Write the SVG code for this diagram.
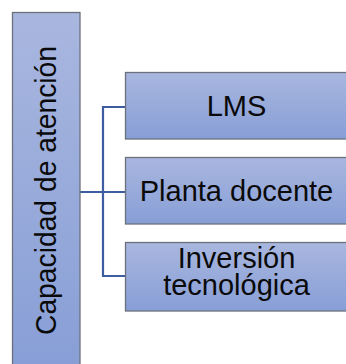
<svg xmlns="http://www.w3.org/2000/svg" width="346" height="364" viewBox="0 0 346 364">
<defs>
<linearGradient id="g" x1="0" y1="0" x2="0" y2="1">
<stop offset="0" stop-color="#A9B7DF"/>
<stop offset="1" stop-color="#879ED6"/>
</linearGradient>
<style>
.box{fill:url(#g);stroke:#6C707C;stroke-width:1.3}
.lbl{font-family:"Liberation Sans",Arial,sans-serif;font-size:29px;fill:#0A0A0A;text-anchor:middle}
.con{fill:none;stroke:#3C5DA2;stroke-width:2.2}
</style>
</defs>
<rect x="0" y="0" width="346" height="364" fill="#FFFFFF"/>
<g id="connectors">
<path class="con" d="M80 192H125"/>
<path class="con" d="M125 107H103V276H125"/>
</g>
<g id="node-capacidad">
<rect class="box" x="12.5" y="12.5" width="67.5" height="360"/>
<text class="lbl" transform="translate(56,190.5) rotate(-90)" x="0" y="0" textLength="289" lengthAdjust="spacingAndGlyphs">Capacidad de atención</text>
</g>
<g id="node-lms">
<rect class="box" x="125.5" y="72.5" width="230" height="66.5"/>
<text class="lbl" x="236.5" y="116">LMS</text>
</g>
<g id="node-planta">
<rect class="box" x="125.5" y="157.5" width="230" height="66.5"/>
<text class="lbl" x="236.5" y="201">Planta docente</text>
</g>
<g id="node-inversion">
<rect class="box" x="125.5" y="242.5" width="230" height="68.5"/>
<text class="lbl" x="236.5" y="268">Inversión</text>
<text class="lbl" x="236.5" y="295">tecnológica</text>
</g>
</svg>
